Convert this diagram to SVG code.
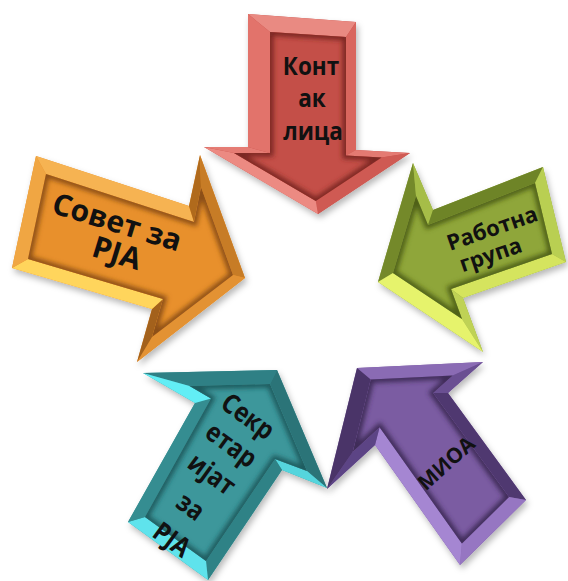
<svg xmlns="http://www.w3.org/2000/svg" width="568" height="581" viewBox="0 0 568 581">
<style>
.txt{font-family:"Open Sans","DejaVu Sans",sans-serif;font-weight:700;fill:#111;text-anchor:middle}
.sh{filter:url(#ds)}
.in-sh{fill:none;stroke-width:7;filter:url(#blur)}
</style>
<defs>
<filter id="ds" x="-20%" y="-20%" width="140%" height="140%"><feDropShadow dx="2" dy="4" stdDeviation="3" flood-color="#000" flood-opacity="0.28"/></filter>
<filter id="blur" x="-10%" y="-10%" width="120%" height="120%"><feGaussianBlur stdDeviation="2.5"/></filter>
<polygon id="redIn" points="270,32 346,37 346,155.5 381.6,157.4 315.8,201.1 234,153 270,153"/>
<polygon id="orgIn" points="46,174 194,222 201,187 233,275 152,337 163,299 28,259"/>
<polygon id="grnIn" points="393,273 416,196 428,225 535,183 552,254 451,289 462,319"/>
<polygon id="tealIn" points="189.5,386 270,384 307,471 275,459 206,561 145,517 211,398.5"/>
<polygon id="purIn" points="370.7,379.4 452.7,375.5 433.1,392.9 509,497.1 461.9,543.5 379.6,427.2 352.7,451.9"/>
<clipPath id="cRed"><use href="#redIn"/></clipPath>
<clipPath id="cOrg"><use href="#orgIn"/></clipPath>
<clipPath id="cGrn"><use href="#grnIn"/></clipPath>
<clipPath id="cTeal"><use href="#tealIn"/></clipPath>
<clipPath id="cPur"><use href="#purIn"/></clipPath>
</defs>
<rect width="568" height="581" fill="#fff"/>

<g id="node-sovet">
<polygon class="sh" fill="#e8902c" points="36,156 189,206 200,155 245,278 137,362 152,309 12,268"/>
<polygon fill="#f6b352" points="36,156 189,206 194,222 46,174"/>
<polygon fill="#b06a1c" points="189,206 200,155 201,187 194,222"/>
<polygon fill="#c77c26" points="200,155 245,278 233,275 201,187"/>
<polygon fill="#e39233" points="245,278 137,362 152,337 233,275"/>
<polygon fill="#a3611c" points="137,362 152,309 163,299 152,337"/>
<polygon fill="#ffd55c" points="152,309 12,268 28,259 163,299"/>
<polygon fill="#f0a643" points="12,268 36,156 46,174 28,259"/>
<use href="#orgIn" fill="#e8902c"/>
<use href="#orgIn" class="in-sh" stroke="#8a4e12" clip-path="url(#cOrg)"/>
<text class="txt" font-size="30" transform="translate(117,222) rotate(17)" y="10.5">Совет за</text>
<text class="txt" font-size="30" transform="translate(117,253) rotate(17)" y="10.5">РЈА</text>
</g>

<g id="node-rabotna">
<polygon class="sh" fill="#8fa63a" points="378,282 413,163 433,210 543,167 566,262 463,298 483,352"/>
<polygon fill="#74892a" points="378,282 413,163 416,196 393,273"/>
<polygon fill="#a6bd48" points="413,163 433,210 428,225 416,196"/>
<polygon fill="#6e8427" points="433,210 543,167 535,183 428,225"/>
<polygon fill="#b9cf52" points="543,167 566,262 552,254 535,183"/>
<polygon fill="#d5e45e" points="566,262 463,298 451,289 552,254"/>
<polygon fill="#bfd255" points="463,298 483,352 462,319 451,289"/>
<polygon fill="#e6f36c" points="483,352 378,282 393,273 462,319"/>
<use href="#grnIn" fill="#8fa63a"/>
<use href="#grnIn" class="in-sh" stroke="#4d5e16" clip-path="url(#cGrn)"/>
<text class="txt" font-size="22" transform="translate(492,228) rotate(-19)" y="8">Работна</text>
<text class="txt" font-size="22" transform="translate(492,259) rotate(-19)" y="3">група</text>
</g>

<g id="node-sekretarijat">
<polygon class="sh" fill="#3d979b" points="143,373 277,370 327,488 282,470 208,580 128,522 195,403"/>
<polygon fill="#2f8085" points="143,373 277,370 270,384 189.5,386"/>
<polygon fill="#2b7478" points="277,370 327,488 307,471 270,384"/>
<polygon fill="#55d5dd" points="327,488 282,470 275,459 307,471"/>
<polygon fill="#2f8286" points="282,470 208,580 206,561 275,459"/>
<polygon fill="#5fe3ec" points="208,580 128,522 145,517 206,561"/>
<polygon fill="#358d91" points="128,522 195,403 211,398.5 145,517"/>
<polygon fill="#62eef5" points="195,403 143,373 189.5,386 211,398.5"/>
<use href="#tealIn" fill="#3d979b"/>
<use href="#tealIn" class="in-sh" stroke="#1f5a5d" clip-path="url(#cTeal)"/>
<text class="txt" font-size="27" transform="translate(246.7,418.3) rotate(36) scale(0.87,1)" y="7">Секр</text>
<text class="txt" font-size="27" transform="translate(228.3,449.3) rotate(36) scale(0.87,1)" y="4">етар</text>
<text class="txt" font-size="27" transform="translate(210,476.7) rotate(36) scale(0.87,1)" y="6">ијат</text>
<text class="txt" font-size="27" transform="translate(189.3,508.3) rotate(36) scale(0.87,1)" y="7">за</text>
<text class="txt" font-size="27" transform="translate(172.3,539) rotate(36) scale(0.87,1)" y="10">РЈА</text>
</g>

<g id="node-mioa">
<polygon class="sh" fill="#7b5ca2" points="357,368 483,362 448,393 526,500 460,565 375,445 327,489"/>
<polygon fill="#8a6bb4" points="357,368 483,362 452.7,375.5 370.7,379.4"/>
<polygon fill="#6a4f92" points="483,362 448,393 433.1,392.9 452.7,375.5"/>
<polygon fill="#4f3870" points="448,393 526,500 509,497.1 433.1,392.9"/>
<polygon fill="#9676c2" points="526,500 460,565 461.9,543.5 509,497.1"/>
<polygon fill="#a586d2" points="460,565 375,445 379.6,427.2 461.9,543.5"/>
<polygon fill="#5c4485" points="375,445 327,489 352.7,451.9 379.6,427.2"/>
<polygon fill="#4a3468" points="327,489 357,368 370.7,379.4 352.7,451.9"/>
<use href="#purIn" fill="#7b5ca2"/>
<use href="#purIn" class="in-sh" stroke="#3d2a57" clip-path="url(#cPur)"/>
<text class="txt" font-size="21" transform="translate(446,463) rotate(-42)" y="7.5">МИОА</text>
</g>

<g id="node-kontakt">
<polygon class="sh" fill="#c44f48" points="248,14 356,22 356,150 410,153 318,214 204,147 248,147"/>
<polygon fill="#e98a82" points="248,14 356,22 346,37 270,32"/>
<polygon fill="#d9665e" points="356,22 356,150 346,155.5 346,37"/>
<polygon fill="#e47a72" points="356,150 410,153 381.6,157.4 346,155.5"/>
<polygon fill="#cf5a53" points="410,153 318,214 315.8,201.1 381.6,157.4"/>
<polygon fill="#ec8a82" points="318,214 204,147 234,153 315.8,201.1"/>
<polygon fill="#e57c74" points="204,147 248,147 270,153 234,153"/>
<polygon fill="#e2736b" points="248,147 248,14 270,32 270,153"/>
<use href="#redIn" fill="#c44f48"/>
<use href="#redIn" class="in-sh" stroke="#7a2520" clip-path="url(#cRed)"/>
<text class="txt" font-size="25" transform="translate(311,75) scale(0.9,1)">Конт</text>
<text class="txt" font-size="25" transform="translate(312,107) scale(0.9,1)">ак</text>
<text class="txt" font-size="25" transform="translate(313,140) scale(0.9,1)">лица</text>
</g>
</svg>
